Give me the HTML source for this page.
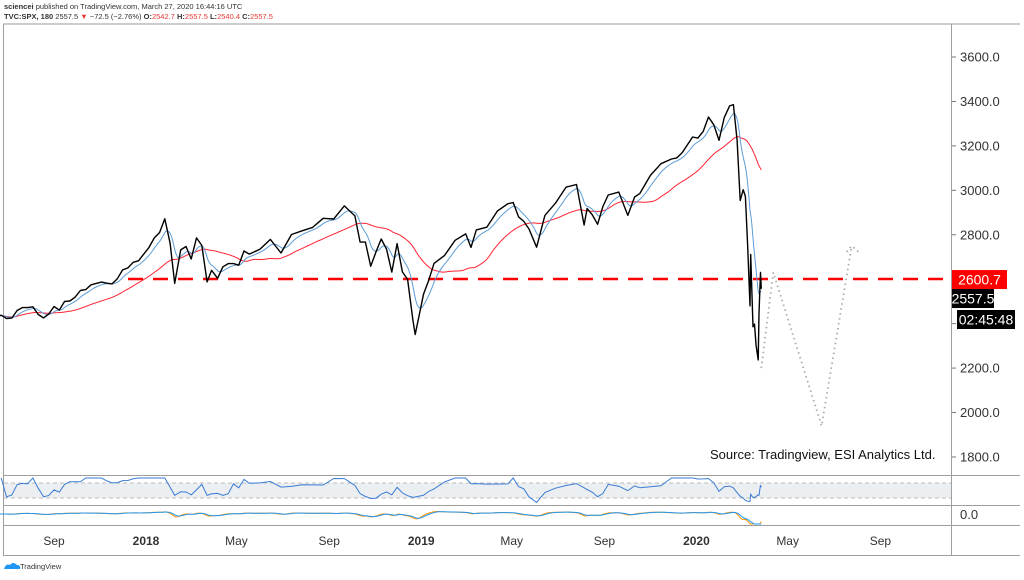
<!DOCTYPE html>
<html><head><meta charset="utf-8">
<style>
html,body{margin:0;padding:0;background:#fff;}
body{width:1024px;height:575px;overflow:hidden;font-family:"Liberation Sans",sans-serif;}
svg text{font-family:"Liberation Sans",sans-serif;}
</style></head><body>
<svg id="chart" width="1024" height="575" xmlns="http://www.w3.org/2000/svg">
<g>
<text x="4" y="9" font-size="7.5" fill="#333"><tspan font-weight="bold">sciencei</tspan> published on TradingView.com, March 27, 2020 16:44:16 UTC</text>
<text x="4" y="19" font-size="7.5" fill="#333"><tspan font-weight="bold">TVC:SPX, 180</tspan>  2557.5 <tspan fill="#e53935">▼</tspan> −72.5 (−2.76%) <tspan font-weight="bold">O:</tspan><tspan fill="#e53935">2542.7</tspan> <tspan font-weight="bold">H:</tspan><tspan fill="#e53935">2557.5</tspan> <tspan font-weight="bold">L:</tspan><tspan fill="#e53935">2540.4</tspan> <tspan font-weight="bold">C:</tspan><tspan fill="#e53935">2557.5</tspan></text>
<line x1="3" y1="24" x2="1020" y2="24" stroke="#999" stroke-width="1"/>
</g>
<g stroke="#9e9e9e" stroke-width="1" fill="none">
<line x1="3.5" y1="24" x2="3.5" y2="556"/>
<line x1="951.5" y1="24" x2="951.5" y2="556"/>
<line x1="3" y1="475.5" x2="1020" y2="475.5"/>
<line x1="3" y1="505.5" x2="1020" y2="505.5"/>
<line x1="3" y1="525.5" x2="1020" y2="525.5"/>
<line x1="3" y1="555.5" x2="1020" y2="555.5"/>
</g>
<g id="yaxis"></g>
<g id="xaxis"></g>
<g id="plot"></g>
<g id="rsi"></g>
<g id="macd"></g>
<text x="710" y="459" font-size="13" fill="#111">Source: Tradingview, ESI Analytics Ltd.</text>
<g>
<path d="M4 569 q2-6 6-4 q3-4 7 0 q4 0 3 4 z" fill="#2196f3"/>
<text x="20" y="569" font-size="7.5" fill="#333">TradingView</text>
</g>
</svg>
<script>
const priceDates=["2017-06-16","2017-06-23","2017-06-30","2017-07-07","2017-07-14","2017-07-21","2017-07-28","2017-08-04","2017-08-11","2017-08-18","2017-08-25","2017-09-01","2017-09-08","2017-09-15","2017-09-22","2017-09-29","2017-10-06","2017-10-13","2017-10-20","2017-10-27","2017-11-03","2017-11-10","2017-11-17","2017-11-24","2017-12-01","2017-12-08","2017-12-15","2017-12-22",
"2018-01-05","2018-01-12","2018-01-19","2018-01-26","2018-02-02","2018-02-08","2018-02-16","2018-02-23","2018-03-02","2018-03-09","2018-03-16","2018-03-23","2018-03-29","2018-04-06","2018-04-13","2018-04-20","2018-04-27","2018-05-04","2018-05-11","2018-05-18","2018-06-01","2018-06-15","2018-06-29","2018-07-13","2018-07-27","2018-08-10","2018-08-24","2018-09-07","2018-09-21","2018-10-05","2018-10-12","2018-10-19","2018-10-26","2018-11-02","2018-11-09","2018-11-16","2018-11-23","2018-11-30","2018-12-07","2018-12-14","2018-12-21","2018-12-24","2019-01-04",
"2019-01-11","2019-01-18","2019-02-01","2019-02-15","2019-03-01","2019-03-08","2019-03-15","2019-03-29","2019-04-12","2019-04-26","2019-05-03","2019-05-10","2019-05-17","2019-05-24","2019-06-03","2019-06-14","2019-06-28","2019-07-12","2019-07-26","2019-08-05","2019-08-09","2019-08-16","2019-08-23","2019-08-30","2019-09-06","2019-09-20","2019-10-02","2019-10-11","2019-10-18","2019-11-01","2019-11-15","2019-11-29","2019-12-06","2019-12-13","2019-12-27",
"2020-01-03","2020-01-10","2020-01-17","2020-01-24","2020-01-31","2020-02-07","2020-02-14","2020-02-19","2020-02-24","2020-02-28","2020-03-03","2020-03-06","2020-03-09","2020-03-12","2020-03-13","2020-03-16","2020-03-18","2020-03-20","2020-03-23","2020-03-24","2020-03-26","2020-03-27"];
const priceValues=[2433,2438,2423,2425,2459,2472,2472,2476,2441,2426,2443,2477,2461,2500,2502,2519,2549,2553,2575,2581,2587,2582,2579,2602,2642,2651,2676,2683,
2743,2786,2810,2872,2762,2581,2732,2747,2691,2786,2752,2588,2640,2604,2656,2670,2670,2663,2727,2713,2735,2779,2718,2801,2818,2833,2874,2871,2930,2885,2767,2767,2658,2723,2781,2736,2632,2760,2633,2599,2416,2351,2532,
2596,2671,2707,2775,2804,2743,2822,2834,2907,2940,2945,2881,2860,2826,2744,2887,2942,3014,3026,2844,2918,2889,2847,2927,2979,2992,2887,2970,2986,3067,3120,3141,3146,3169,3240,
3235,3265,3330,3295,3225,3328,3380,3386,3225,2954,3003,2972,2746,2480,2711,2386,2398,2305,2237,2447,2630,2557];
const projDates=["2020-03-27","2020-04-12","2020-06-15","2020-07-25"];
const projValues=[2200,2630,1940,2750];
const supportLevel=2600.7;
const lastPrice=2557.5;
const yTicks=[3600,3400,3200,3000,2800,2600,2400,2200,2000,1800];
const xTickDates=["2017-09-01","2018-01-01","2018-05-01","2018-09-01","2019-01-01","2019-05-01","2019-09-01","2020-01-01","2020-05-01","2020-09-01"];
const xTickLabels=["Sep","2018","May","Sep","2019","May","Sep","2020","May","Sep"];

const NS="http://www.w3.org/2000/svg";
const base=Date.UTC(2018,0,1);
function day(s){const p=s.split("-");return (Date.UTC(+p[0],p[1]-1,+p[2])-base)/86400000;}
function X(s){return 146+day(s)*0.754;}
function Xd(d){return 146+d*0.754;}
function Y(p){return 57+(3600-p)*0.2222;}
function mk(tag,attrs,parent){const e=document.createElementNS(NS,tag);for(const k in attrs)e.setAttribute(k,attrs[k]);parent.appendChild(e);return e;}

const yaxis=document.getElementById("yaxis");
yTicks.forEach(v=>{
  const t=mk("line",{x1:952,x2:956,y1:Y(v),y2:Y(v),stroke:"#777"},yaxis);
  
  
  const l=mk("text",{x:960,y:Y(v)+4.5,"font-size":13,fill:"#333"},yaxis);
  l.textContent=v.toFixed(1);
  
  
});
const xaxis=document.getElementById("xaxis");
xTickDates.forEach((d,i)=>{
  const l=mk("text",{x:X(d),y:545,"font-size":12,fill:"#333","text-anchor":"middle","font-weight":/^\d/.test(xTickLabels[i])?"bold":"normal"},xaxis);
  l.textContent=xTickLabels[i];
  
  
});

const d0=day(priceDates[0]),d1=day(priceDates[priceDates.length-1]);
const daily=[];
for(let d=d0,j=0;d<=d1;d++){
  while(j<priceDates.length-2&&day(priceDates[j+1])<d)j++;
  const a=day(priceDates[j]),b=day(priceDates[j+1]);
  const t=Math.min(1,Math.max(0,(d-a)/(b-a)));
  daily.push({d:d,v:priceValues[j]+(priceValues[j+1]-priceValues[j])*t});
}
function sma(n){return daily.map((p,i)=>{let s=0,c=0;for(let k=Math.max(0,i-n+1);k<=i;k++){s+=daily[k].v;c++;}return s/c;});}
function ema(arr,n){const a=2/(n+1);let e=arr[0];return arr.map(v=>e=e+a*(v-e));}
const vals=daily.map(p=>p.v);
const red=sma(100), blue=ema(vals,20);

const plot=document.getElementById("plot");
function poly(pts,attrs,name){const e=mk("polyline",Object.assign({points:pts.map(p=>p[0].toFixed(1)+","+p[1].toFixed(1)).join(" "),fill:"none"},attrs),plot);return e;}

const dl=mk("line",{x1:128,x2:951,y1:Y(supportLevel),y2:Y(supportLevel),stroke:"#f00","stroke-width":2.5,"stroke-dasharray":"15 10"},plot);



poly(daily.map((p,i)=>[Xd(p.d),Y(red[i])]),{stroke:"#f23",["stroke-width"]:1},"moving-average-red");
poly(daily.map((p,i)=>[Xd(p.d),Y(blue[i])]),{stroke:"#5b9bd5",["stroke-width"]:1},"moving-average-blue");
poly(priceDates.map((d,i)=>[X(d),Y(priceValues[i])]),{stroke:"#000",["stroke-width"]:1.4,"stroke-linejoin":"round"},"price-line");
poly(projDates.map((d,i)=>[X(d),Y(projValues[i])]),{stroke:"#aaa",["stroke-width"]:1.8,"stroke-dasharray":"1.5 3.5"},"projection-path");
const pe=projDates.length-1,ax=X(projDates[pe]),ay=Y(projValues[pe]);
poly([[ax-5,ay+6],[ax,ay],[ax+9,ay+8]],{stroke:"#aaa",["stroke-width"]:1.8,"stroke-dasharray":"1.5 3.5"},"projection-arrowhead");

function box(x,y,w,h,fill,txt,name){
  const g=mk("g",{},plot);
  mk("rect",{x:x,y:y,width:w,height:h,fill:fill},g);
  const t=mk("text",{x:x+w/2,y:y+h/2+5,"font-size":14,fill:"#fff","text-anchor":"middle"},g);t.textContent=txt;
}
box(952,Y(supportLevel)-9,55,19,"#f00",supportLevel.toFixed(1),"support-price-label");
box(952,Y(supportLevel)+10,42,19,"#000",lastPrice.toFixed(1),"last-price-label");
box(957,310,58,19,"#000","02:45:48","countdown-label");

const rsi=document.getElementById("rsi");
const rb=mk("rect",{x:4,y:483,width:947,height:15,fill:"#eceff1"},rsi);

[483,498].forEach(y=>{const l=mk("line",{x1:4,x2:951,y1:y,y2:y,stroke:"#bbb","stroke-dasharray":"4 3"},rsi);});
const rpts=[];
for(let i=1;i<priceValues.length;i++){
  let up=0,dn=0;
  for(let k=Math.max(1,i-4);k<=i;k++){const ch=priceValues[k]-priceValues[k-1];if(ch>0)up+=ch;else dn-=ch;}
  const r=up+dn===0?50:100*up/(up+dn);
  const y=Math.max(478,Math.min(503,503-r*0.25));
  rpts.push(X(priceDates[i]).toFixed(1)+","+y.toFixed(1));
}
const rl=mk("polyline",{points:rpts.join(" "),fill:"none",stroke:"#3a7bd5","stroke-width":1},rsi);


const macdG=document.getElementById("macd");
const e26=ema(vals,26);
const m=ema(vals,12).map((v,i)=>v-e26[i]);
const sig=ema(m,9);
function my(v){return Math.max(507,Math.min(524,514-v*0.06));}
const ml=mk("polyline",{points:daily.map((p,i)=>Xd(p.d).toFixed(1)+","+my(m[i]).toFixed(1)).join(" "),fill:"none",stroke:"#ff9800","stroke-width":1},macdG);

const sl=mk("polyline",{points:daily.map((p,i)=>Xd(p.d).toFixed(1)+","+my(sig[i]).toFixed(1)).join(" "),fill:"none",stroke:"#2196f3","stroke-width":1},macdG);

const z=mk("text",{x:960,y:519,"font-size":13,fill:"#333"},macdG);z.textContent="0.0";

</script>
</body></html>
